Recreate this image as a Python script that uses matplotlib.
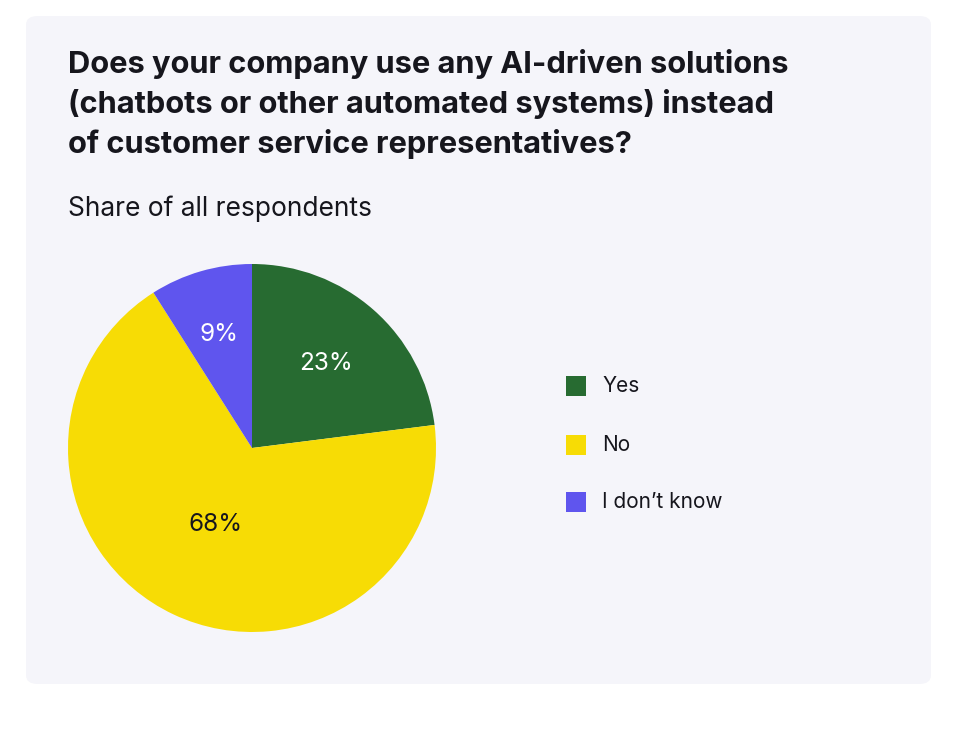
import numpy as np
import matplotlib
matplotlib.use("Agg")
import matplotlib.pyplot as plt
from matplotlib.patches import FancyBboxPatch, Rectangle

plt.rcParams['font.family'] = ['Inter', 'DejaVu Sans']

labels = ['Yes', 'No', 'I don\u2019t know']
shares = [23, 68, 9]
colors = ['#276b31', '#f7dc05', '#5f55ee']
pct_colors = ['white', '#16161d', 'white']
pct_dist = [0.61, 0.46, 0.64]

title = ("Does your company use any AI-driven solutions\n"
         "(chatbots or other automated systems) instead\n"
         "of customer service representatives?")
subtitle = "Share of all respondents"

W, H = 968, 732
fig = plt.figure(figsize=(W / 100, H / 100), dpi=100)
fig.patch.set_facecolor('white')

def fx(px):
    return px / W

def fy(py):
    return 1 - py / H

# card background
card = FancyBboxPatch((fx(26), fy(684)), fx(931) - fx(26), fy(16) - fy(684),
                      boxstyle="round,pad=0,rounding_size=0.012",
                      transform=fig.transFigure, facecolor='#f5f5fa',
                      edgecolor='none', zorder=-1)
fig.patches.append(card)

fig.text(fx(68), fy(49), title, ha='left', va='top', fontsize=22.2,
         fontweight='bold', color='#16161d', linespacing=1.42)
fig.text(fx(68), fy(195), subtitle, ha='left', va='top', fontsize=19,
         color='#16161d')

# pie
ax = fig.add_axes([fx(68), fy(632), fx(436) - fx(68), fy(264) - fy(632)])
ax.patch.set_visible(False)
wedges, _ = ax.pie(shares, colors=colors, startangle=90, counterclock=False,
                   wedgeprops=dict(linewidth=0))
ax.set_xlim(-1, 1)
ax.set_ylim(-1, 1)
ax.set_aspect('equal')
ax.axis('off')

for w, s, c, d in zip(wedges, shares, pct_colors, pct_dist):
    ang = np.deg2rad((w.theta1 + w.theta2) / 2)
    ax.text(d * np.cos(ang), d * np.sin(ang), f"{s}%", ha='center',
            va='center', fontsize=17.5, color=c)

# legend
leg_y = [386, 445, 502]
for lab, col, y in zip(labels, colors, leg_y):
    fig.patches.append(Rectangle((fx(566), fy(y + 10)), fx(20), fy(0) - fy(20),
                                 transform=fig.transFigure, facecolor=col,
                                 edgecolor='none'))
    fig.text(fx(602), fy(y), lab, ha='left', va='center', fontsize=15,
             color='#16161d')

fig.savefig('out.png', dpi=100, facecolor='white')
